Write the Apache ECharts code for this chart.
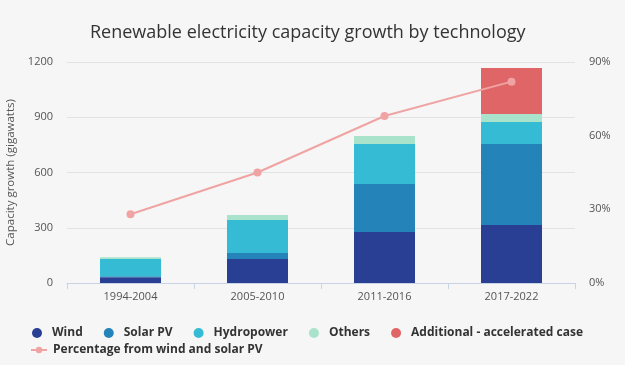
<!DOCTYPE html>
<html><head><meta charset="utf-8">
<script src="https://cdn.jsdelivr.net/npm/echarts@6/dist/echarts.min.js"></script>
<style>html,body{margin:0;padding:0;background:#f6f6f6}#c{width:625px;height:365px}</style>
</head><body><div id="c"></div>
<script>
const categories = ['1994-2004','2005-2010','2011-2016','2017-2022'];
const wind = [31, 130, 277, 315];
const solarPV = [5, 33, 260, 440];
const hydropower = [94, 179, 218, 119];
const others = [10, 27, 43, 43];
const additional = [null, null, null, 250];
const pctWindSolar = [28, 45, 68, 82];
const leftTicks = [0, 300, 600, 900, 1200];

const font = '"Open Sans", sans-serif';
const chart = echarts.init(document.getElementById('c'));
const barW = 61;
const legendText = {fontFamily: font, fontSize: 12, fontWeight: 'bold', color: '#333'};
chart.setOption({
  backgroundColor: '#f6f6f6',
  textStyle: {fontFamily: font},
  title: {text: 'Renewable electricity capacity growth by technology', left: 85, top: 19,
    textStyle: {fontFamily: font, fontSize: 18, fontWeight: 'normal', color: '#333'}},
  grid: {left: 67, right: 50, top: 62, bottom: 82, outerBoundsMode: 'none', containLabel: false},
  legend: [{
    data: ['Wind','Solar PV','Hydropower','Others','Additional - accelerated case'],
    left: 27, top: 322, icon: 'circle', itemWidth: 10, itemHeight: 10, itemGap: 21,
    textStyle: Object.assign({padding: [0, 0, 0, 5]}, legendText)
  }, {
    data: ['Percentage from wind and solar PV'],
    left: 25, top: 339, itemWidth: 16, itemHeight: 8,
    textStyle: Object.assign({padding: [0, 0, 0, 1]}, legendText)
  }],
  xAxis: {type: 'category', data: categories,
    axisLine: {lineStyle: {color: '#c9d3e6'}},
    axisTick: {show: true, length: 6, lineStyle: {color: '#c9d3e6'}},
    axisLabel: {color: '#555', fontSize: 11, margin: 8}},
  yAxis: [{type: 'value', min: leftTicks[0], max: leftTicks[leftTicks.length-1], interval: 300,
    name: 'Capacity growth (gigawatts)', nameLocation: 'middle', nameGap: 41, nameRotate: 90,
    nameTextStyle: {color: '#555', fontSize: 11.5},
    axisLabel: {color: '#555', fontSize: 11, margin: 14, formatter: v => String(v)},
    splitLine: {lineStyle: {color: '#e2e2e2'}}},
   {type: 'value', min: 0, max: 90, interval: 30, position: 'right',
    axisLabel: {color: '#555', fontSize: 11, margin: 14, formatter: '{value}%'},
    splitLine: {show: false}}],
  series: [
    {name: 'Wind', type: 'bar', stack: 't', barWidth: barW, data: wind, itemStyle: {color: '#283f94'}},
    {name: 'Solar PV', type: 'bar', stack: 't', barWidth: barW, data: solarPV, itemStyle: {color: '#2484ba'}},
    {name: 'Hydropower', type: 'bar', stack: 't', barWidth: barW, data: hydropower, itemStyle: {color: '#35bcd4'}},
    {name: 'Others', type: 'bar', stack: 't', barWidth: barW, data: others, itemStyle: {color: '#a9e3cb'}},
    {name: 'Additional - accelerated case', type: 'bar', stack: 't', barWidth: barW, data: additional, itemStyle: {color: '#e06566'}},
    {name: 'Percentage from wind and solar PV', type: 'line', yAxisIndex: 1, data: pctWindSolar,
      symbol: 'circle', symbolSize: 8, itemStyle: {color: '#f0a3a3'}, lineStyle: {color: '#f0a3a3', width: 2}}
  ]
});
</script></body></html>
